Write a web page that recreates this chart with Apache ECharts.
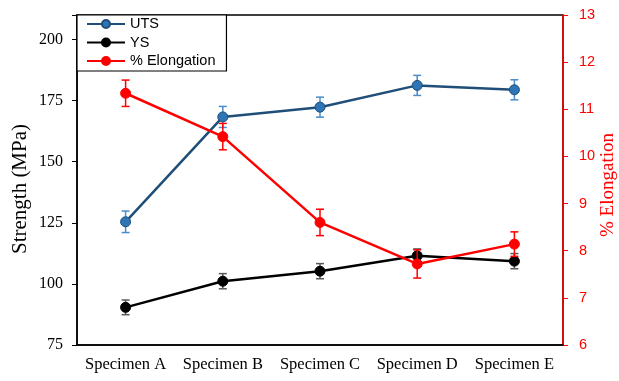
<!DOCTYPE html>
<html><head><meta charset="utf-8">
<script src="https://cdn.jsdelivr.net/npm/echarts@6/dist/echarts.min.js"></script>
<style>html,body{margin:0;padding:0;background:#fff}#c{width:619px;height:381px}</style>
</head><body><div id="c"></div>
<script>
const categories = ['Specimen A','Specimen B','Specimen C','Specimen D','Specimen E'];
const utsValues = [125.4, 168.3, 172.3, 181.2, 179.4];
const utsErrors = [4.4, 4.3, 4.1, 4.1, 4.1];
const ysValues = [90.4, 101.1, 105.2, 111.5, 109.3];
const ysErrors = [3.0, 3.1, 3.1, 2.8, 3.1];
const elongValues = [11.34, 10.42, 8.60, 7.72, 8.14];
const elongErrors = [0.28, 0.28, 0.28, 0.30, 0.26];
const leftTicks = [75, 100, 125, 150, 175, 200];
const rightTicks = [6, 7, 8, 9, 10, 11, 12, 13];

const chart = echarts.init(document.getElementById('c'));
function errSeries(vals, errs, yIdx, color, z) {
  return {
    type: 'custom', yAxisIndex: yIdx, z: z, silent: true,
    data: vals.map((v, i) => [i, v - errs[i], v + errs[i]]),
    renderItem: function (params, api) {
      const lo = api.coord([api.value(0), api.value(1)]);
      const hi = api.coord([api.value(0), api.value(2)]);
      const w = 4;
      const st = { stroke: color, lineWidth: 1.5 };
      return { type: 'group', children: [
        { type: 'line', shape: { x1: lo[0], y1: lo[1], x2: hi[0], y2: hi[1] }, style: st },
        { type: 'line', shape: { x1: lo[0]-w, y1: lo[1], x2: lo[0]+w, y2: lo[1] }, style: st },
        { type: 'line', shape: { x1: hi[0]-w, y1: hi[1], x2: hi[0]+w, y2: hi[1] }, style: st }
      ]};
    }
  };
}
const serif = '"Liberation Serif", "Times New Roman", serif';
const sans = '"Liberation Sans", Carlito, Arial, sans-serif';
chart.setOption({
  animation: false,
  grid: { left: 77, right: 56, top: 15, bottom: 36, containLabel: false, outerBoundsMode: 'none',
    show: true, borderColor: '#000', borderWidth: 1.5, backgroundColor: 'transparent' },
  legend: {
    left: 77, top: 15, orient: 'vertical', itemGap: 3.5, itemWidth: 38, itemHeight: 10,
    padding: [1.5, 11, 2.5, 9],
    backgroundColor: '#fff', borderColor: '#000', borderWidth: 1.2,
    textStyle: { fontFamily: sans, fontSize: 14.5, color: '#000' },
    data: ['UTS', 'YS', '% Elongation']
  },
  xAxis: {
    type: 'category', data: categories, boundaryGap: true,
    axisLine: { lineStyle: { color: '#000', width: 1.5 } },
    axisTick: { alignWithLabel: true, length: 4, lineStyle: { color: '#000' } },
    axisLabel: { fontFamily: serif, fontSize: 16.5, color: '#000', margin: 11, interval: 0, hideOverlap: false }
  },
  yAxis: [{
    type: 'value', min: 75, max: 210, interval: 25, position: 'left',
    name: 'Strength (MPa)', nameLocation: 'middle', nameGap: 46, nameRotate: 90, nameMoveOverlap: false,
    nameTextStyle: { fontFamily: serif, fontSize: 21, color: '#000', padding: [0, 18, 0, 0] },
    axisLine: { show: true, lineStyle: { color: '#000', width: 1.5 } },
    axisTick: { show: true, length: 5, lineStyle: { color: '#000' } },
    axisLabel: { fontFamily: serif, fontSize: 16, color: '#000', margin: 14,
      formatter: v => leftTicks.includes(v) ? String(v) : '' },
    splitLine: { show: false }
  }, {
    type: 'value', min: 6, max: 13, interval: 1, position: 'right',
    name: '% Elongation', nameLocation: 'middle', nameGap: 36, nameRotate: 90, nameMoveOverlap: false,
    nameTextStyle: { fontFamily: serif, fontSize: 19, color: '#ff0000', padding: [0, 10, 0, 0] },
    axisLine: { show: true, lineStyle: { color: '#ff0000', width: 1.5 } },
    axisTick: { show: true, length: 5, lineStyle: { color: '#ff0000' } },
    axisLabel: { fontFamily: sans, fontSize: 14.5, color: '#ff0000', margin: 16,
      formatter: v => rightTicks.includes(v) ? String(v) : '' },
    splitLine: { show: false }
  }],
  series: [
    errSeries(utsValues, utsErrors, 0, '#4a8ccc', 3),
    { name: 'UTS', type: 'line', yAxisIndex: 0, data: utsValues, z: 4,
      symbol: 'circle', symbolSize: 10,
      lineStyle: { color: '#1f4e79', width: 2.5 },
      itemStyle: { color: '#2e75b6', borderColor: '#1f4e79', borderWidth: 1 } },
    errSeries(ysValues, ysErrors, 0, '#595959', 5),
    { name: 'YS', type: 'line', yAxisIndex: 0, data: ysValues, z: 6,
      symbol: 'circle', symbolSize: 10,
      lineStyle: { color: '#000', width: 2.5 },
      itemStyle: { color: '#000', borderColor: '#000', borderWidth: 1 } },
    errSeries(elongValues, elongErrors, 1, '#ff0000', 7),
    { name: '% Elongation', type: 'line', yAxisIndex: 1, data: elongValues, z: 8,
      symbol: 'circle', symbolSize: 10,
      lineStyle: { color: '#ff0000', width: 2.5 },
      itemStyle: { color: '#ff0000', borderColor: '#ff0000', borderWidth: 1 } }
  ]
});
</script></body></html>
